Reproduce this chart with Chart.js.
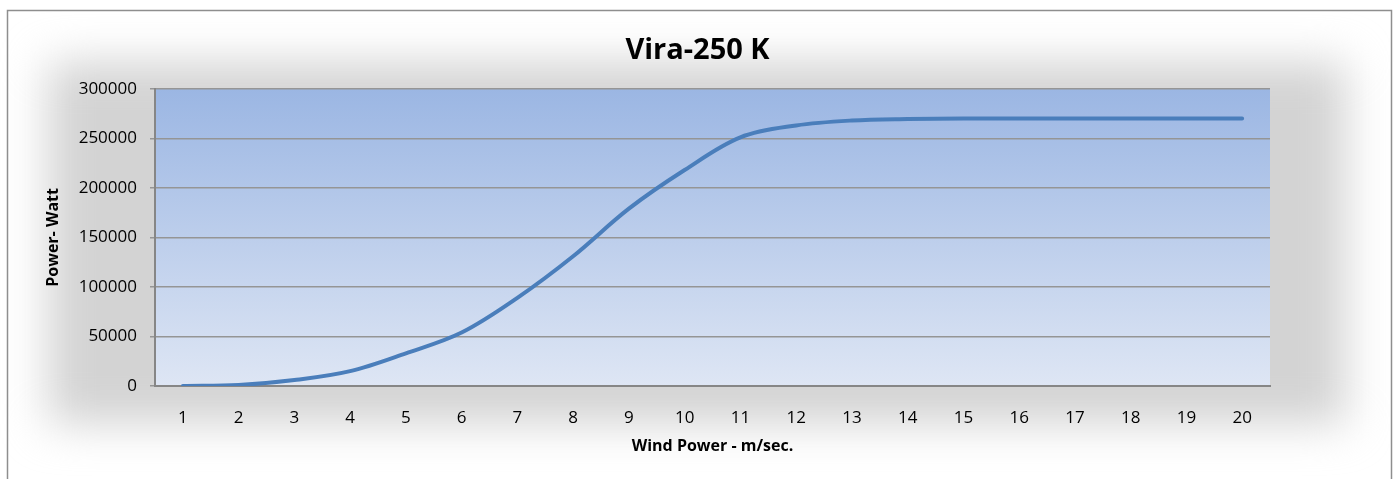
<!DOCTYPE html>
<html>
<head>
<meta charset="utf-8">
<script src="https://cdn.jsdelivr.net/npm/chart.js@4/dist/chart.umd.min.js"></script>
<style>
  html, body { margin: 0; padding: 0; background: #fff; }
  #wrap { width: 1395px; height: 479px; position: relative; }
</style>
</head>
<body>
<div id="wrap"><canvas id="powerCurve" width="1395" height="479"></canvas></div>
<script>
const chartTitle = 'Vira-250 K';
const xTitle = 'Wind Power - m/sec.';
const yTitle = 'Power- Watt';
const windSpeeds = ['1', '2', '3', '4', '5', '6', '7', '8', '9', '10',
                    '11', '12', '13', '14', '15', '16', '17', '18', '19', '20'];
const powerWatt = [0, 1000, 6000, 15000, 33000, 54000, 89000, 131000, 179000, 218000,
                   251000, 263000, 268000, 269500, 270000, 270000, 270000, 270000, 270000, 270000];
const yMin = 0;
const yMax = 300000;
const yStep = 50000;

const fontFamily = "'Open Sans', 'Liberation Sans', sans-serif";

// frame, soft grey glow and gradient plot background (Excel look)
const backdrop = {
    id: 'backdrop',
    beforeDraw(chart) {
        const c = chart.ctx;
        const a = chart.chartArea;
        c.save();
        c.fillStyle = '#fff';
        c.fillRect(0, 0, chart.width, chart.height);

        c.filter = 'blur(22px)';
        c.fillStyle = '#d3d3d3';
        c.fillRect(48, 62, 1298, 362);
        c.filter = 'none';

        const g = c.createLinearGradient(0, a.top, 0, a.bottom);
        g.addColorStop(0, '#9bb6e3');
        g.addColorStop(1, '#dee6f4');
        c.fillStyle = g;
        c.fillRect(a.left, a.top, a.right - a.left, a.bottom - a.top);

        c.strokeStyle = '#8e8e8e';
        c.lineWidth = 1.5;
        c.strokeRect(7.5, 10.5, 1384, 520);
        c.restore();
    }
};

const ctx = document.getElementById('powerCurve').getContext('2d');
const chart = new Chart(ctx, {
    type: 'line',
    data: {
        labels: windSpeeds,
        datasets: [{
            label: 'Power',
            data: powerWatt,
            borderColor: '#4a7ebb',
            borderWidth: 4,
            borderCapStyle: 'round',
            pointRadius: 0,
            fill: false,
            tension: 0.35,
            yAxisID: 'y'
        }]
    },
    options: {
        responsive: false,
        animation: false,
        devicePixelRatio: 1,
        layout: { padding: 0 },
        plugins: {
            legend: { display: false },
            tooltip: { enabled: false },
            title: {
                display: true,
                text: chartTitle,
                color: '#000',
                font: { family: fontFamily, size: 29, weight: 'bold' },
                padding: { top: 33, bottom: 21 }
            }
        },
        scales: {
            x: {
                offset: true,
                grid: { display: false, drawTicks: false },
                border: { display: true, color: '#868686', width: 2 },
                ticks: {
                    color: '#000',
                    padding: 22,
                    font: { family: fontFamily, size: 17 }
                },
                title: {
                    display: true,
                    text: xTitle,
                    color: '#000',
                    font: { family: fontFamily, size: 16, weight: 'bold' },
                    padding: { top: 0, bottom: 23 }
                },
                afterFit(scale) { scale.height = 93; }
            },
            y: {
                min: yMin,
                max: yMax,
                grid: {
                    color: '#959595',
                    lineWidth: 1.5,
                    drawTicks: true,
                    tickLength: 5,
                    tickColor: '#959595'
                },
                border: { display: true, color: '#868686', width: 2 },
                ticks: {
                    stepSize: yStep,
                    color: '#000',
                    padding: 13,
                    font: { family: fontFamily, size: 17 },
                    callback: v => String(v)
                },
                title: {
                    display: true,
                    text: yTitle,
                    color: '#000',
                    font: { family: fontFamily, size: 16, weight: 'bold' },
                    padding: { top: 44, bottom: 0 }
                },
                afterFit(scale) { scale.width = 155; }
            },
            spacer: {
                position: 'right',
                display: true,
                grid: { display: false },
                border: { display: false },
                ticks: { display: false },
                afterFit(scale) { scale.width = 125; }
            }
        }
    },
    plugins: [backdrop]
});
</script>
</body>
</html>
